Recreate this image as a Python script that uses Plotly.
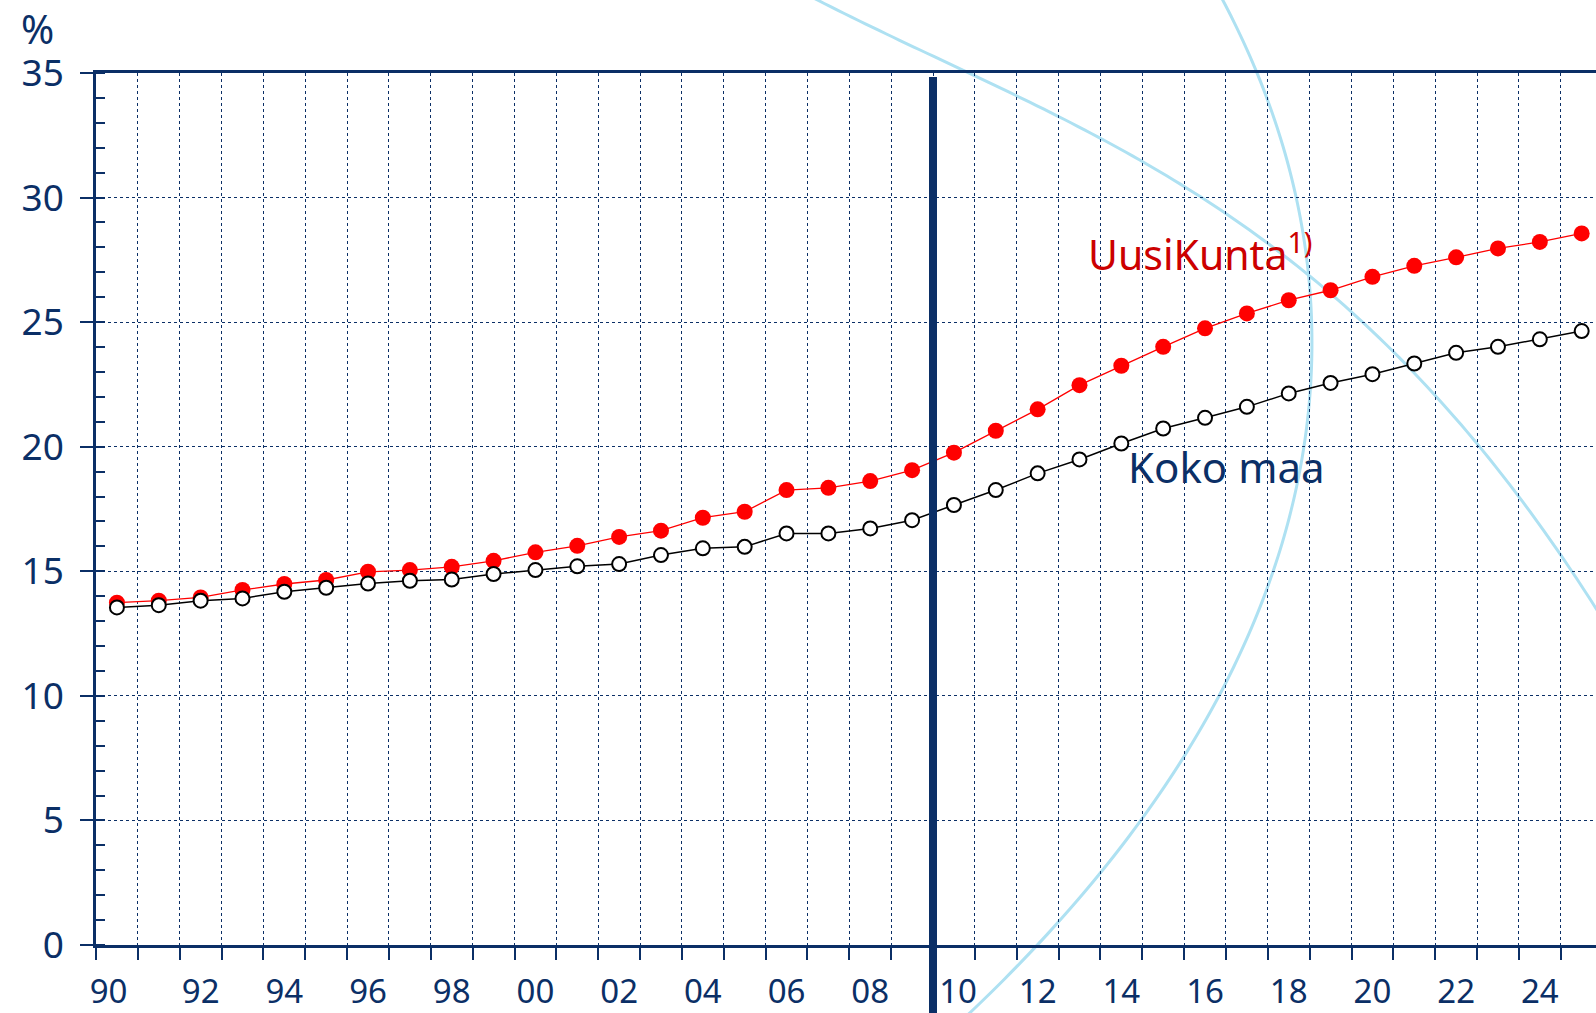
import numpy as np
import plotly.graph_objects as go

# ---- data -------------------------------------------------------------
years = list(range(1990, 2026))
uusikunta = [13.74, 13.82, 13.95, 14.25, 14.49, 14.65, 14.98, 15.05, 15.18, 15.42,
             15.76, 16.02, 16.38, 16.63, 17.15, 17.39, 18.26, 18.35, 18.62, 19.06,
             19.76, 20.64, 21.50, 22.47, 23.25, 24.01, 24.75, 25.35, 25.88, 26.28,
             26.82, 27.26, 27.60, 27.96, 28.22, 28.56]
koko_maa = [13.55, 13.64, 13.82, 13.91, 14.18, 14.34, 14.51, 14.62, 14.67, 14.89,
            15.05, 15.20, 15.29, 15.65, 15.92, 15.98, 16.52, 16.52, 16.72, 17.05,
            17.66, 18.26, 18.93, 19.49, 20.13, 20.73, 21.16, 21.60, 22.14, 22.56,
            22.91, 23.34, 23.77, 24.01, 24.31, 24.64]
label_years = list(range(1990, 2025, 2))
label_text = ["90", "92", "94", "96", "98", "00", "02", "04", "06", "08",
              "10", "12", "14", "16", "18", "20", "22", "24"]
y_ticks = [0, 5, 10, 15, 20, 25, 30, 35]
divider_year = 2009.5

# ---- styling ----------------------------------------------------------
NAVY = "#0b2f66"
W, H = 1596, 1013
ML, MR, MT, MB = 96, 0, 73, 68
PW, PH = W - ML - MR, H - MT - MB
X0, X1 = 1989.5, 1989.5 + PW / 41.85
FONT = "Noto Sans"

# small label nudges, as in the original artwork
label_nudge = {1990: -0.2, 2010: 0.1}
label_pos = [y + label_nudge.get(y, 0) for y in label_years]

fig = go.Figure()
fig.add_trace(go.Scatter(
    x=years, y=uusikunta, mode="lines+markers",
    line=dict(color="#ff0000", width=1.3),
    marker=dict(color="#ff0000", size=16, line=dict(width=0)),
    showlegend=False, cliponaxis=False))
fig.add_trace(go.Scatter(
    x=years, y=koko_maa, mode="lines+markers",
    line=dict(color="#000000", width=1.5),
    marker=dict(color="#ffffff", size=14, line=dict(color="#000000", width=2)),
    showlegend=False, cliponaxis=False))


def to_paper(px, py):
    return (np.asarray(px) - ML) / PW, (H - MB - np.asarray(py)) / PH


# decorative light-blue arcs (pixel guide points -> paper coords)
arc1_x = [814, 976.4, 1069, 1200, 1273.3, 1307.7, 1360, 1421.7, 1481.7, 1521.7, 1563.3, 1595]
arc1_y = [0, 72.7, 120, 200, 250, 276.7, 320, 380, 446.7, 495, 556.7, 613.3]
arc2_x = [1222.9, 1256.8, 1274, 1306.7, 1311.7, 1303, 1268, 1240, 1216.7, 1140, 1036.7, 970]
arc2_y = [0, 72.7, 120, 250, 343, 450, 583, 656.7, 700, 821.7, 945, 1013]

c1 = np.polyfit(arc1_x, arc1_y, 3)
xs = np.linspace(790, 1605, 120)
ys = np.polyval(c1, xs)
c2 = np.polyfit(arc2_y, arc2_x, 4)
ys2 = np.linspace(-10, 1025, 160)
xs2 = np.polyval(c2, ys2)


def path(px, py):
    u, v = to_paper(px, py)
    return "M " + " L ".join(f"{a:.5f},{b:.5f}" for a, b in zip(u, v))


for pth in (path(xs, ys), path(xs2, ys2)):
    fig.add_shape(type="path", path=pth, xref="paper", yref="paper",
                  line=dict(color="#aee1f2", width=3), layer="between")

# divider line
fig.add_shape(type="line", xref="x", yref="paper", x0=divider_year, x1=divider_year,
              y0=-0.1, y1=1 - 4 / PH, line=dict(color=NAVY, width=8), layer="above")

fig.add_annotation(x=2013.15, y=27.8, xref="x", yref="y", xanchor="left", yanchor="middle",
                   text="UusiKunta<sup>1)</sup>", showarrow=False,
                   font=dict(family=FONT, size=41, color="#cc0000"))
fig.add_annotation(x=2014.1, y=19.2, xref="x", yref="y", xanchor="left", yanchor="middle",
                   text="Koko maa", showarrow=False,
                   font=dict(family=FONT, size=42, color=NAVY))
px_, py_ = to_paper(37, 28)
fig.add_annotation(x=float(px_), y=float(py_), xref="paper", yref="paper",
                   xanchor="center", yanchor="middle", text="%", showarrow=False,
                   font=dict(family=FONT, size=40, color=NAVY))

fig.update_layout(
    width=W, height=H, autosize=False,
    margin=dict(l=ML, r=MR, t=MT, b=MB, pad=0),
    paper_bgcolor="white", plot_bgcolor="white",
    font=dict(family=FONT, color=NAVY),
    xaxis=dict(
        range=[X0, X1], tickmode="array", tickvals=label_pos, ticktext=label_text,
        ticks="", showgrid=False, zeroline=False,
        showline=True, linecolor=NAVY, linewidth=2.5, mirror=True,
        tickfont=dict(family=FONT, size=33, color=NAVY), ticklabelstandoff=16,
        minor=dict(tick0=1989.5, dtick=1, ticks="outside", ticklen=12, tickwidth=1.5,
                   tickcolor=NAVY, showgrid=True, gridcolor=NAVY, gridwidth=1,
                   griddash="dot"),
    ),
    yaxis=dict(
        range=[0, 35], tickmode="array", tickvals=y_ticks,
        ticks="outside", ticklen=13, tickwidth=2, tickcolor=NAVY,
        showgrid=True, gridcolor=NAVY, gridwidth=1, griddash="dot", zeroline=False,
        showline=True, linecolor=NAVY, linewidth=2.5,
        tickfont=dict(family=FONT, size=37, color=NAVY), ticklabelstandoff=9,
        minor=dict(dtick=1, ticks="inside", ticklen=9, tickwidth=1.5, tickcolor=NAVY,
                   showgrid=False),
    ),
)

fig.write_html(
    "out.html",
    config={"displayModeBar": False},
    post_script="document.body.style.margin='0';document.body.style.overflow='hidden';",
)
